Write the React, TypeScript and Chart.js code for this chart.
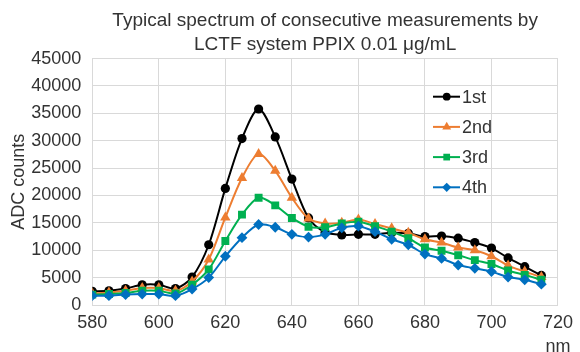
import React, { useEffect, useRef } from "react";
import { Chart, registerables } from "chart.js";

Chart.register(...registerables);

const wavelengths = [580, 585, 590, 595, 600, 605, 610, 615, 620, 625, 630, 635, 640, 645, 650, 655, 660, 665, 670, 675, 680, 685, 690, 695, 700, 705, 710, 715];
const seriesNames = ["1st", "2nd", "3rd", "4th"];
const first = [2500, 2600, 3000, 3700, 3700, 3000, 5100, 11000, 21300, 30400, 35800, 30700, 23000, 15900, 13300, 12800, 12900, 12900, 13200, 13100, 12500, 12600, 12200, 11400, 10400, 8600, 7000, 5400];
const second = [2100, 2300, 2600, 3100, 3100, 2600, 4300, 8300, 16000, 23200, 27600, 24500, 19600, 15800, 14900, 15000, 15600, 14800, 14000, 13200, 12000, 11400, 10500, 10000, 8900, 7200, 6100, 5100];
const third = [1900, 2000, 2200, 2600, 2600, 2100, 3700, 6500, 11700, 16500, 19600, 18200, 15900, 14300, 14200, 14900, 15200, 14400, 13400, 12200, 10500, 9900, 9100, 8200, 7500, 6300, 5500, 4600];
const fourth = [1700, 1700, 1900, 2000, 2000, 1700, 2900, 5000, 8900, 12300, 14700, 14200, 12900, 12400, 12900, 14100, 14400, 13400, 12000, 11000, 9300, 8500, 7300, 6700, 6100, 5100, 4600, 3800];
const xTickRange = [580, 720];
const yTickRange = [0, 45000];
const titleLines = ["Typical spectrum of consecutive measurements by", "LCTF system PPIX 0.01 μg/mL"];
const yTitle = "ADC counts";
const xUnit = "nm";

const colors = ["#000000", "#ED7D31", "#00B050", "#0070C0"];
const pointStyles = ["circle", "triangle", "rect", "rectRot"];
const radii = [4.6, 6, 5.6, 5.4];
const FONT = "'Liberation Sans', Arial, Helvetica, sans-serif";
const TEXT = "#333333";
const GRID = "#d9d9d9";

function drawMarker(ctx: CanvasRenderingContext2D, style: string, x: number, y: number, r: number) {
  ctx.beginPath();
  if (style === "circle") {
    ctx.arc(x, y, r, 0, Math.PI * 2);
  } else if (style === "triangle") {
    ctx.moveTo(x, y - r);
    ctx.lineTo(x + Math.sin((2 * Math.PI) / 3) * r, y - Math.cos((2 * Math.PI) / 3) * r);
    ctx.lineTo(x + Math.sin((4 * Math.PI) / 3) * r, y - Math.cos((4 * Math.PI) / 3) * r);
    ctx.closePath();
  } else if (style === "rect") {
    const s = Math.SQRT1_2 * r;
    ctx.rect(x - s, y - s, 2 * s, 2 * s);
  } else {
    ctx.moveTo(x, y - r);
    ctx.lineTo(x + r, y);
    ctx.lineTo(x, y + r);
    ctx.lineTo(x - r, y);
    ctx.closePath();
  }
  ctx.fill();
}

const lineLegend = {
  id: "lineLegend",
  afterDatasetsDraw(chart: any) {
    const ctx: CanvasRenderingContext2D = chart.ctx;
    ctx.save();
    chart.data.datasets.forEach((ds: any, i: number) => {
      const y = 96.7 + i * 30.2;
      ctx.strokeStyle = ds.borderColor;
      ctx.fillStyle = ds.borderColor;
      ctx.lineWidth = 2;
      ctx.beginPath();
      ctx.moveTo(433, y);
      ctx.lineTo(460, y);
      ctx.stroke();
      drawMarker(ctx, ds.pointStyle, 446.7, y, ds.pointRadius * 0.85);
      ctx.fillStyle = TEXT;
      ctx.font = `18px ${FONT}`;
      ctx.textAlign = "left";
      ctx.textBaseline = "middle";
      ctx.fillText(ds.label, 462, y + 1);
    });
    const xs = chart.scales.x;
    ctx.fillStyle = TEXT;
    ctx.font = `18px ${FONT}`;
    ctx.textAlign = "center";
    ctx.textBaseline = "middle";
    ctx.fillText(xUnit, xs.getPixelForValue(xTickRange[1]), 347);
    ctx.restore();
  },
};

export default function App() {
  const ref = useRef<HTMLCanvasElement>(null);
  useEffect(() => {
    document.body.style.margin = "0";
    const series = [first, second, third, fourth];
    const chart = new Chart(ref.current as HTMLCanvasElement, {
      type: "line",
      data: {
        datasets: series.map((vals, i) => ({
          label: seriesNames[i],
          data: wavelengths.map((w, j) => ({ x: w, y: vals[j] })),
          borderColor: colors[i],
          backgroundColor: colors[i],
          pointBackgroundColor: colors[i],
          pointBorderColor: colors[i],
          pointBorderWidth: 0,
          pointStyle: pointStyles[i],
          pointRadius: radii[i],
          borderWidth: 2,
          tension: 0.3,
          fill: false,
          order: 3 - i,
        })),
      },
      options: {
        animation: false,
        responsive: false,
        maintainAspectRatio: false,
        layout: { padding: { top: 0, left: 0, right: 18.3, bottom: 0 } },
        font: { family: FONT },
        plugins: {
          legend: { display: false },
          tooltip: { enabled: false },
          title: {
            display: true,
            fullSize: false,
            text: titleLines,
            color: TEXT,
            font: { family: FONT, size: 19, weight: "normal", lineHeight: 1.24 },
            padding: { top: 9, bottom: 2.5 },
          },
        },
        scales: {
          x: {
            type: "linear",
            min: xTickRange[0],
            max: xTickRange[1],
            ticks: { stepSize: 20, color: TEXT, font: { family: FONT, size: 18 }, padding: 7, maxRotation: 0, callback: (v: any) => String(v) },
            grid: { color: GRID, drawTicks: false, lineWidth: 1 },
            border: { color: GRID },
            afterFit: (s: any) => { s.height = 47; },
          },
          y: {
            min: yTickRange[0],
            max: yTickRange[1],
            ticks: { stepSize: 5000, color: TEXT, font: { family: FONT, size: 18 }, padding: 11, callback: (v: any) => String(v) },
            grid: { color: GRID, drawTicks: false, lineWidth: 1 },
            border: { color: GRID },
            title: { display: true, text: yTitle, color: TEXT, font: { family: FONT, size: 18 }, padding: { top: 8, bottom: 0 } },
            afterFit: (s: any) => { s.width = 92.3; },
          },
        },
      },
      plugins: [lineLegend],
    } as any);
    return () => chart.destroy();
  }, []);
  return (
    <div style={{ width: 580, height: 352, position: "relative" }}>
      <canvas ref={ref} width={580} height={352} style={{ display: "block" }} />
    </div>
  );
}
